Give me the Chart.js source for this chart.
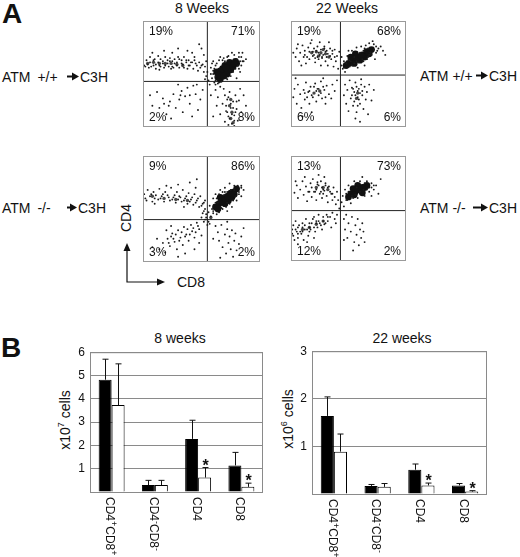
<!DOCTYPE html>
<html>
<head>
<meta charset="utf-8">
<script src="https://cdn.jsdelivr.net/npm/chart.js@4.4.1/dist/chart.umd.min.js"></script>
<style>
  body { margin: 0; background: #fff; }
  #fig { position: relative; width: 520px; height: 557px; background: #fff;
         font-family: "Liberation Sans", Arial, sans-serif; color: #111; overflow: hidden; }
  #fig canvas { position: absolute; }
  .t { position: absolute; white-space: nowrap; font-size: 14px; line-height: 14px; }
  .labL { word-spacing: 3px; }
  .big { font-size: 28px; line-height: 28px; font-weight: bold; }
  .rot { transform: translate(-50%, -50%) rotate(-90deg); }
  sup { font-size: 9px; line-height: 0; }
</style>
</head>
<body>
<div id="fig">
  <div class="t big" style="left:2px;top:0px">A</div>
  <div class="t" style="left:202px;top:1px;transform:translateX(-50%)">8 Weeks</div>
  <div class="t" style="left:347px;top:1px;transform:translateX(-50%)">22 Weeks</div>

  <div class="t labL" style="left:2px;top:70px">ATM +/+</div>
  <div class="t" style="left:80px;top:70px">C3H</div>
  <div class="t" style="left:420px;top:69px">ATM +/+</div>
  <div class="t" style="left:489px;top:69px">C3H</div>

  <div class="t labL" style="left:2px;top:201px">ATM -/-</div>
  <div class="t" style="left:78px;top:201px">C3H</div>
  <div class="t" style="left:420px;top:201px">ATM -/-</div>
  <div class="t" style="left:489px;top:201px">C3H</div>

  <div class="t rot" style="left:126px;top:218px">CD4</div>
  <svg style="position:absolute;left:0;top:0" width="520" height="557">
    <g fill="#111" stroke="#111">
      <line x1="67" y1="76.5" x2="73" y2="76.5" stroke-width="2"/>
      <polygon points="72,72.5 79,76.5 72,80.5" stroke="none"/>
      <line x1="476" y1="75.5" x2="482" y2="75.5" stroke-width="2"/>
      <polygon points="481,71.5 488,75.5 481,79.5" stroke="none"/>
      <line x1="67" y1="207.5" x2="71" y2="207.5" stroke-width="2"/>
      <polygon points="70,203.5 77,207.5 70,211.5" stroke="none"/>
      <line x1="473" y1="207.5" x2="482" y2="207.5" stroke-width="2"/>
      <polygon points="481,203.5 488,207.5 481,211.5" stroke="none"/>
    </g>
    <polyline points="127,250 127,282 158,282" fill="none" stroke="#111" stroke-width="1.2"/>
    <polygon points="127,243 123.5,251 130.5,251" fill="#111"/>
    <polygon points="165,282 157,278.5 157,285.5" fill="#111"/>
  </svg>
  <div class="t" style="left:177px;top:275px">CD8</div>

  <canvas id="flowWt8" width="125" height="114" style="left:139px;top:17px"></canvas>
  <canvas id="flowWt22" width="123" height="114" style="left:287px;top:17px"></canvas>
  <canvas id="flowKo8" width="125" height="114" style="left:139px;top:152px"></canvas>
  <canvas id="flowKo22" width="123" height="113" style="left:287px;top:152px"></canvas>

  <div class="t big" style="left:1px;top:334px">B</div>
  <div class="t" style="left:180px;top:331px;transform:translateX(-50%)">8 weeks</div>
  <div class="t" style="left:402px;top:331px;transform:translateX(-50%)">22 weeks</div>
  <div class="t rot" style="left:65px;top:420px">x10<sup>7</sup> cells</div>
  <div class="t rot" style="left:288px;top:419px">x10<sup>6</sup> cells</div>

  <canvas id="bar8" width="228" height="217" style="left:40px;top:340px"></canvas>
  <canvas id="bar22" width="230" height="218" style="left:262px;top:339px"></canvas>
</div>

<script>
// ---- Panel A: flow plots, CD8 on x, CD4 on y, both 0-100 ----
const gateWt8 = [55, 43];
const gateWt22 = [43, 49];
const gateKo8 = [55, 40];
const gateKo22 = [43, 48];

// quadrant percentages: upper-left, upper-right, lower-left, lower-right
const pctWt8 = ["19%", "71%", "2%", "8%"];
const pctWt22 = ["19%", "68%", "6%", "6%"];
const pctKo8 = ["9%", "86%", "3%", "2%"];
const pctKo22 = ["13%", "73%", "12%", "2%"];

// dense cores of each population, then single events
const coreWt8 = [[64,47],[67,50],[70,53],[73,56],[76,59],[79,62],[68,55],[72,50],[75,54],[66,45],[70,58],[77,57],[63,52],[80,60],[74,61],[66,53],[71,56],[65,49],[78,60],[69,48]];
const midWt8 = [[4,60],[9,61],[14,60],[19,60],[24,60],[29,59],[34,58],[75,8],[76,14],[74,20],[77,4],[75,26]];
const dotsWt8 = [[1,58],[3,63],[5,56],[6,66],[9,58],[10,64],[11,55],[13,67],[14,58],[15,64],[17,62],[18,56],[19,66],[21,63],[22,57],[23,65],[25,62],[26,56],[27,64],[29,61],[30,66],[31,56],[33,63],[34,59],[35,66],[37,61],[38,55],[39,63],[40,58],[42,61],[43,55],[44,63],[46,58],[47,53],[48,61],[49,56],[51,59],[52,52],[53,57],[54,62],
  [2,57],[4,59],[6,61],[7,57],[9,63],[11,59],[13,61],[15,57],[17,60],[19,58],[21,60],[23,62],[25,57],[27,60],[29,58],[31,64],[33,60],[35,56],[37,63],[39,58],[41,61],[45,60],[50,58],[24,55],[14,54],
  [18,72],[30,74],[42,70],[48,78],[52,68],[25,70],[38,72],[50,74],[44,66],[8,70],
  [54,48],[56,44],[58,50],[57,40],[59,46],[61,42],[53,45],[60,53],[55,52],[62,48],
  [60,50],[61,55],[62,44],[63,60],[64,41],[65,63],[67,43],[69,65],[71,46],[73,67],[75,48],[77,52],[79,55],[81,58],[83,62],[84,66],[82,55],[62,40],[58,56],[59,60],[66,66],[70,62],[72,45],[80,64],[85,62],
  [82,66],[85,70],[88,64],[84,58],[83,52],[80,46],[86,62],[78,68],[72,66],[68,63],[62,58],[60,62],[65,42],[82,70],[76,70],
  [14,18],[17,27],[20,12],[23,24],[26,31],[28,18],[31,26],[33,34],[36,29],[38,37],[40,22],[43,39],[45,31],[47,16],[49,26],[51,35],[12,33],[24,8],[34,14],[42,10],[8,20],[6,30],[30,40],[46,40],[22,20],[32,30],[40,30],[18,22],
  [62,35],[64,28],[66,38],[68,22],[70,30],[71,15],[72,26],[73,10],[74,33],[75,18],[76,3],[77,24],[78,11],[79,30],[80,17],[81,6],[82,25],[84,14],[86,30],[88,20],[70,5],[73,2],[78,1],[66,12],[63,20],[69,36],[83,36],[58,30],[60,10],[90,8],
  [72,14],[74,8],[75,22],[76,12],[77,18],[78,6],[73,28],[71,20],[79,14],[80,24]];

const coreWt22 = [[50,60],[54,63],[58,66],[62,68],[66,71],[56,69],[60,63],[52,66],[64,66],[70,73],[48,58],[57,64],[61,67],[55,60],[68,69]];
const midWt22 = [[18,70],[22,71],[26,70],[30,69],[24,67],[28,73],[33,66],[20,32],[25,34],[58,32],[57,27]];
const dotsWt22 = [[2,70],[4,66],[5,74],[7,62],[8,70],[10,77],[11,66],[12,72],[13,60],[15,75],[16,64],[17,79],[19,67],[20,74],[21,61],[23,76],[24,64],[25,80],[27,66],[29,76],[30,62],[31,72],[32,58],[34,74],[35,64],[36,69],[37,57],[38,73],[39,62],[40,67],[41,55],[42,71],[9,58],[26,58],[33,80],[18,82],[6,78],
  [20,68],[22,72],[24,70],[26,73],[28,68],[30,71],[32,69],[27,65],[23,66],[19,71],[29,74],[34,67],[16,71],[25,68],[31,66],[21,65],[14,66],[36,72],[12,68],[38,66],
  [45,55],[46,62],[47,52],[49,67],[51,57],[53,72],[55,60],[57,75],[59,61],[61,76],[63,62],[65,77],[67,66],[68,79],[70,68],[72,78],[74,70],[76,74],[78,76],[80,72],[82,68],[73,64],[71,81],[64,58],[58,56],[50,72],[44,58],[44,66],
  [46,56],[48,60],[52,62],[55,66],[60,70],[63,72],[67,74],[69,70],[72,73],[75,72],[66,64],[62,64],[57,62],[53,58],[50,64],[68,68],[74,76],[64,74],
  [2,28],[3,36],[5,22],[6,40],[8,31],[9,18],[11,35],[12,26],[13,42],[15,33],[16,22],[17,38],[19,28],[21,41],[22,24],[23,36],[24,30],[26,43],[27,27],[29,35],[30,22],[31,39],[33,31],[35,27],[36,40],[38,34],[40,44],[18,14],[10,10],[28,46],[4,46],
  [18,30],[22,34],[24,36],[20,38],[26,32],[16,34],[14,28],[28,38],[12,32],[30,28],
  [46,30],[47,40],[48,22],[49,35],[50,15],[51,44],[52,27],[53,37],[54,20],[55,33],[56,42],[57,14],[58,28],[59,36],[60,22],[61,45],[62,30],[63,17],[64,38],[65,26],[66,33],[67,12],[68,40],[70,25],[56,8],[60,5],[72,35],[53,30],
  [56,30],[58,34],[60,32],[57,38],[59,26],[55,24],[62,34],[54,36],[61,40],[58,20]];

const coreKo8 = [[62,52],[65,55],[68,58],[71,61],[74,63],[77,66],[80,69],[70,55],[66,61],[73,58],[64,50],[76,61],[67,57],[70,60],[72,62],[75,65],[78,64]];
const midKo8 = [[8,62],[18,60],[28,59],[38,58],[58,42]];
const dotsKo8 = [[1,64],[3,58],[4,68],[6,62],[8,57],[9,66],[11,63],[13,59],[14,69],[16,62],[18,57],[19,66],[21,63],[23,58],[24,70],[26,61],[28,56],[29,66],[31,62],[33,57],[34,68],[36,60],[38,55],[39,65],[41,59],[43,54],[44,64],[46,58],[48,52],[49,62],[51,55],[52,48],[53,58],[40,75],[30,73],[45,70],[20,72],[10,55],[46,78],[35,52],
  [2,60],[7,64],[10,60],[15,60],[17,64],[22,61],[25,59],[27,63],[30,59],[32,61],[35,58],[37,62],[40,57],[42,61],[45,56],[47,60],[50,53],[52,56],
  [50,42],[52,38],[54,45],[55,40],[56,47],[57,36],[58,43],[59,50],[53,50],[57,53],[60,46],[51,46],[55,35],[54,42],[56,38],[53,40],
  [60,60],[62,64],[64,56],[66,68],[78,72],[82,66],[84,72],[80,58],[76,52],[72,48],[86,68],[70,70],[74,74],[68,50],[63,45],[84,62],
  [60,48],[62,56],[63,60],[65,64],[68,66],[70,66],[72,66],[75,68],[78,68],[81,72],[82,64],[79,62],[77,58],[74,55],[71,52],[67,51],[65,47],[69,63],[72,56],[84,70],
  [14,12],[17,18],[19,9],[21,22],[23,15],[25,27],[27,19],[29,12],[30,30],[32,23],[34,16],[35,33],[37,26],[39,20],[41,35],[42,29],[44,23],[46,37],[48,31],[50,25],[24,34],[12,22],[36,8],[44,12],[20,30],[8,14],[48,18],[30,5],
  [26,22],[28,26],[31,20],[33,28],[36,24],[38,31],[40,26],[43,32],[45,28],[47,34],[22,18],[24,24],
  [62,34],[64,28],[65,20],[67,35],[68,14],[70,26],[71,8],[72,31],[73,18],[74,24],[75,12],[76,30],[77,5],[78,20],[79,27],[80,11],[82,17],[84,24],[60,22],[66,4],[86,32],[72,38]];

const coreKo22 = [[52,64],[56,66],[60,68],[64,70],[58,72],[54,69],[62,65],[66,72],[50,61],[58,68],[62,70],[55,63]];
const midKo22 = [[22,70],[28,70],[32,68],[10,30],[16,32],[22,35],[28,38]];
const dotsKo22 = [[3,65],[5,72],[6,60],[8,68],[10,76],[11,63],[13,71],[14,57],[15,66],[17,74],[18,61],[19,78],[21,66],[22,58],[23,73],[25,64],[26,76],[27,60],[28,68],[30,74],[31,62],[32,56],[33,71],[35,64],[36,58],[37,70],[38,61],[39,54],[40,66],[41,58],[42,50],[12,80],[24,82],[4,76],[29,80],
  [18,70],[22,68],[24,72],[27,70],[29,67],[32,70],[20,66],[26,66],[30,72],[34,66],[16,66],[28,64],[36,64],[23,75],
  [44,56],[45,62],[46,52],[47,68],[49,58],[50,72],[52,55],[55,76],[58,60],[60,76],[64,62],[66,76],[68,66],[70,74],[72,68],[74,72],[76,64],[78,78],[62,80],[54,60],[48,64],[70,62],
  [48,58],[50,66],[53,62],[57,70],[60,66],[63,68],[66,68],[68,70],[70,70],[64,74],[56,63],[72,72],
  [1,26],[2,34],[3,20],[4,38],[5,28],[6,22],[7,34],[9,26],[10,36],[11,20],[12,30],[13,40],[15,24],[16,36],[17,30],[19,40],[21,28],[22,38],[23,32],[24,44],[25,36],[27,30],[28,42],[29,35],[31,44],[32,38],[34,42],[35,32],[36,46],[38,40],[39,36],[40,44],[6,16],[14,18],[20,22],[1,30],
  [4,30],[6,32],[8,28],[10,32],[12,34],[14,30],[16,32],[18,36],[20,32],[22,36],[24,38],[26,34],[28,38],[30,36],[10,28],[6,26],[16,28],[32,42],[2,24],[20,42],
  [46,40],[47,30],[48,44],[49,22],[50,36],[52,28],[53,42],[55,18],[56,34],[57,25],[58,40],[59,15],[60,30],[61,22],[62,36],[63,28],[46,20],[54,10],[64,18]];

// ---- Panel B: absolute numbers ----
const categories = ["CD4+CD8+", "CD4-CD8-", "CD4", "CD8"];
const wk8Wt = [4.82, 0.3, 2.28, 1.14];
const wk8WtErr = [5.7, 0.5, 3.08, 1.7];
const wk8Ko = [3.73, 0.3, 0.62, 0.22];
const wk8KoErr = [5.5, 0.5, 1.05, 0.38];
const wk22Wt = [1.64, 0.17, 0.51, 0.18];
const wk22WtErr = [2.04, 0.2, 0.63, 0.22];
const wk22Ko = [0.89, 0.15, 0.18, 0.05];
const wk22KoErr = [1.26, 0.22, 0.23, 0.07];
const koSignificant = [false, false, true, true];

const FONT = "'Liberation Sans', Arial, sans-serif";
const toXY = arr => arr.map(p => ({ x: p[0], y: p[1] }));

// frame + quadrant percentages on the flow plots
const flowDecor = {
    id: "flowDecor",
    afterDraw(chart, args, opts) {
        const ctx = chart.ctx;
        const a = chart.chartArea;
        ctx.save();
        ctx.strokeStyle = "#9a9a9a";
        ctx.lineWidth = 1;
        ctx.strokeRect(a.left + 0.5, a.top + 0.5, a.width - 1, a.height - 1);
        ctx.fillStyle = "#111";
        ctx.font = "12px " + FONT;
        ctx.textBaseline = "middle";
        const pct = opts.pct;
        ctx.textAlign = "left";
        ctx.fillText(pct[0], a.left + 6, a.top + 11);
        ctx.fillText(pct[2], a.left + 6, a.bottom - 9);
        ctx.textAlign = "right";
        ctx.fillText(pct[1], a.right - 5, a.top + 11);
        ctx.fillText(pct[3], a.right - 5, a.bottom - 9);
        ctx.restore();
    }
};

function makeFlow(id, core, mid, dots, gate, pct) {
    const gx = gate[0], gy = gate[1];
    new Chart(document.getElementById(id), {
        type: "scatter",
        data: {
            datasets: [
                { data: toXY(dots), pointRadius: 0.95, backgroundColor: "#1a1a1a", borderWidth: 0 },
                { data: toXY(mid), pointRadius: 1.7, backgroundColor: "rgba(25,25,25,0.8)", borderWidth: 0 },
                { data: toXY(core), pointRadius: 3.4, backgroundColor: "#111", borderWidth: 0 },
                { type: "line", data: [{ x: gx, y: 0 }, { x: gx, y: 100 }], borderColor: "#222", borderWidth: 1, pointRadius: 0 },
                { type: "line", data: [{ x: 0, y: gy }, { x: 100, y: gy }], borderColor: "#222", borderWidth: 1, pointRadius: 0 }
            ]
        },
        options: {
            responsive: false,
            animation: false,
            events: [],
            layout: { padding: 0 },
            plugins: { legend: { display: false }, tooltip: { enabled: false }, flowDecor: { pct: pct } },
            scales: {
                x: { type: "linear", min: 0, max: 100, display: false },
                y: { type: "linear", min: 0, max: 100, display: false }
            }
        },
        plugins: [flowDecor]
    });
}

makeFlow("flowWt8", coreWt8, midWt8, dotsWt8, gateWt8, pctWt8);
makeFlow("flowWt22", coreWt22, midWt22, dotsWt22, gateWt22, pctWt22);
makeFlow("flowKo8", coreKo8, midKo8, dotsKo8, gateKo8, pctKo8);
makeFlow("flowKo22", coreKo22, midKo22, dotsKo22, gateKo22, pctKo22);

// box, error bars, stars and rotated category labels on the bar charts
const barDecor = {
    id: "barDecor",
    afterDatasetsDraw(chart) {
        const ctx = chart.ctx;
        const ys = chart.scales.y;
        ctx.save();
        ctx.strokeStyle = "#111";
        ctx.lineWidth = 1;
        chart.data.datasets.forEach((ds, di) => {
            chart.getDatasetMeta(di).data.forEach((bar, i) => {
                const x = Math.round(bar.x) + 0.5;
                const yTop = ys.getPixelForValue(ds.errors[i]);
                ctx.beginPath();
                ctx.moveTo(x, bar.y);
                ctx.lineTo(x, yTop);
                ctx.moveTo(x - 3, yTop);
                ctx.lineTo(x + 3, yTop);
                ctx.stroke();
                if (ds.stars && ds.stars[i]) {
                    ctx.fillStyle = "#111";
                    ctx.font = "bold 16px " + FONT;
                    ctx.textAlign = "center";
                    ctx.textBaseline = "alphabetic";
                    ctx.fillText("*", x, yTop + 3);
                }
            });
        });
        ctx.restore();
    },
    afterDraw(chart) {
        const ctx = chart.ctx;
        const a = chart.chartArea;
        const xs = chart.scales.x;
        ctx.save();
        ctx.strokeStyle = "#8a8a8a";
        ctx.lineWidth = 1;
        ctx.strokeRect(a.left + 0.5, a.top + 0.5, a.width - 1, a.height);
        ctx.fillStyle = "#111";
        ctx.textBaseline = "middle";
        ctx.textAlign = "left";
        chart.data.labels.forEach((lab, i) => {
            ctx.save();
            ctx.translate(xs.getPixelForValue(i) - 2, a.bottom + 5);
            ctx.rotate(Math.PI / 2);
            let pos = 0;
            for (let k = 0; k < lab.length; k++) {
                const c = lab[k];
                const sup = (c === "+" || c === "-") && /\d/.test(lab[k - 1]);
                ctx.font = (sup ? "9px " : "12px ") + FONT;
                ctx.fillText(c, pos, sup ? -4 : 0);
                pos += ctx.measureText(c).width;
            }
            ctx.restore();
        });
        ctx.restore();
    }
};

function makeBars(id, wt, wtErr, ko, koErr, yMax, pad) {
    new Chart(document.getElementById(id), {
        type: "bar",
        data: {
            labels: categories,
            datasets: [
                { data: wt, errors: wtErr, backgroundColor: "#000", borderColor: "#000", borderWidth: 1 },
                { data: ko, errors: koErr, stars: koSignificant, backgroundColor: "#fff", borderColor: "#000", borderWidth: 1 }
            ]
        },
        options: {
            responsive: false,
            animation: false,
            events: [],
            layout: { padding: pad },
            datasets: { bar: { categoryPercentage: 0.6, barPercentage: 1.0 } },
            plugins: { legend: { display: false }, tooltip: { enabled: false } },
            scales: {
                x: { display: false },
                y: {
                    min: 0,
                    max: yMax,
                    afterFit: s => { s.width = 50; },
                    border: { display: false },
                    grid: { color: "#8a8a8a", lineWidth: 1, drawTicks: false },
                    ticks: {
                        stepSize: 1,
                        padding: 5,
                        color: "#111",
                        font: { family: FONT, size: 12 },
                        callback: v => (v === 0 ? "" : v)
                    }
                }
            }
        },
        plugins: [barDecor]
    });
}

makeBars("bar8", wk8Wt, wk8WtErr, wk8Ko, wk8KoErr, 6, { top: 10, right: 5, bottom: 65, left: 0 });
makeBars("bar22", wk22Wt, wk22WtErr, wk22Ko, wk22KoErr, 3, { top: 10, right: 5, bottom: 63, left: 0 });
</script>
</body>
</html>
